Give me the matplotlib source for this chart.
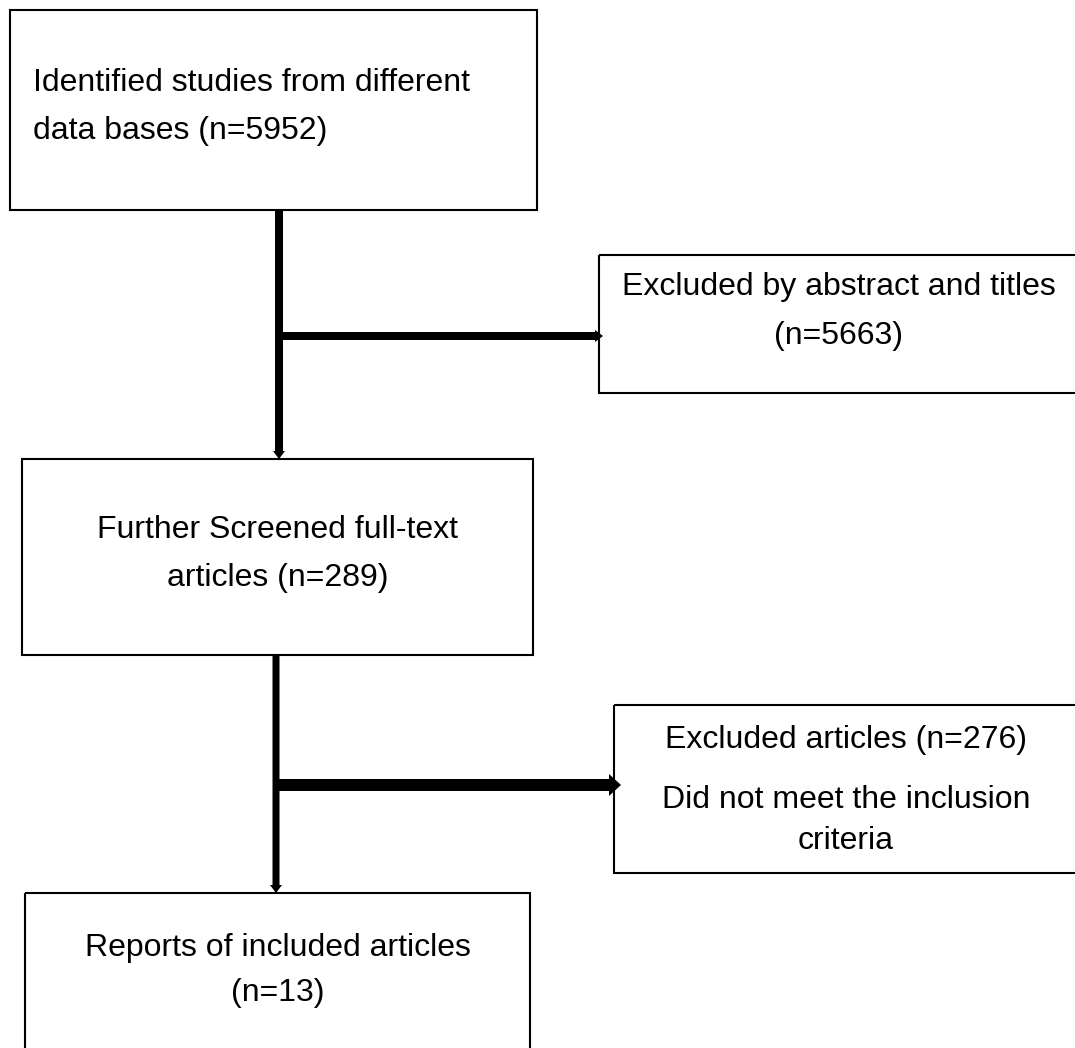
import matplotlib.pyplot as plt
from matplotlib.patches import Rectangle, FancyArrow

plt.rcParams['font.family'] = ['Liberation Sans', 'DejaVu Sans']

# box texts (flow order)
box_texts = [
    ["Identified studies from different", "data bases (n=5952)"],
    ["Excluded by abstract and titles", "(n=5663)"],
    ["Further Screened full-text", "articles (n=289)"],
    ["Excluded articles (n=276)", "Did not meet the inclusion", "criteria"],
    ["Reports of included articles", "(n=13)"],
]

# layout in pixels: left, top, right, bottom
box_pos = [
    (10, 10, 537, 210),
    (599, 255, 1078, 393),
    (22, 459, 533, 655),
    (614, 705, 1078, 873),
    (25, 893, 530, 1060),
]
text_y = [
    [83, 131],
    [287, 336],
    [530, 578],
    [740, 800, 841],
    [948, 993],
]
text_align = ['left', 'center', 'center', 'center', 'center']

fig = plt.figure(figsize=(10.75, 10.48), dpi=100)
ax = fig.add_axes([0, 0, 1, 1])
ax.set_xlim(0, 1075)
ax.set_ylim(1048, 0)
ax.axis('off')

for (l, t, r, b), lines, ys, al in zip(box_pos, box_texts, text_y, text_align):
    ax.add_patch(Rectangle((l, t), r - l, b - t, fill=False, ec='black', lw=1.5))
    x = l + 23 if al == 'left' else (l + r) / 2
    for s, y in zip(lines, ys):
        ax.text(x, y, s, ha=al, va='center', fontsize=23, color='black')

# connectors
# vertical 1
ax.add_patch(FancyArrow(279, 210, 0, 249, width=8, head_width=12, head_length=8,
                        length_includes_head=True, color='black', lw=0))
# horizontal 1
ax.add_patch(FancyArrow(279, 336, 324, 0, width=8, head_width=12, head_length=8,
                        length_includes_head=True, color='black', lw=0))
# vertical 2
ax.add_patch(FancyArrow(276, 655, 0, 238, width=7, head_width=12, head_length=8,
                        length_includes_head=True, color='black', lw=0))
# horizontal 2
ax.add_patch(FancyArrow(276, 785, 345, 0, width=12, head_width=22, head_length=12,
                        length_includes_head=True, color='black', lw=0))

fig.savefig('out.png', dpi=100)
